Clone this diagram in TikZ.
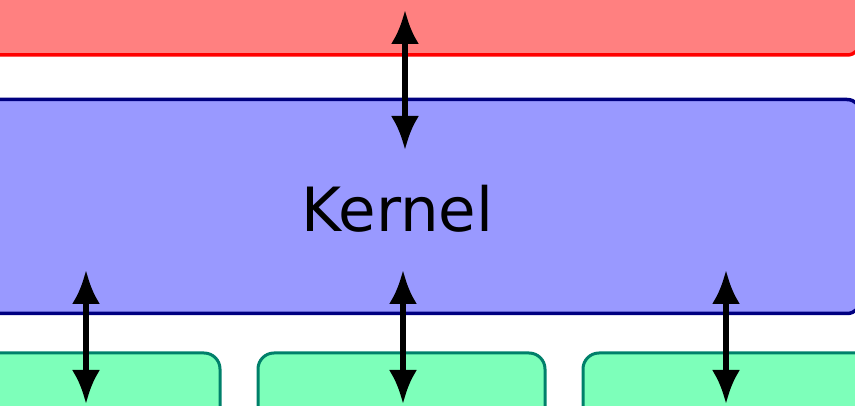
\documentclass[tikz,border=0pt]{standalone}
\usepackage{fontspec}
\setmainfont{DejaVu Sans}
\usetikzlibrary{arrows.meta}
\definecolor{userfill}{HTML}{FF8080}
\definecolor{userline}{HTML}{FF0000}
\definecolor{kernfill}{HTML}{9999FF}
\definecolor{kernline}{HTML}{000080}
\definecolor{devfill}{HTML}{7DFFBA}
\definecolor{devline}{HTML}{00806A}
\begin{document}
\begin{tikzpicture}[x=1pt,y=-1pt,
  layer/.style={rectangle, rounded corners=14pt, line width=3.5pt, inner sep=0pt},
  userlayer/.style={layer, fill=userfill, draw=userline},
  kernlayer/.style={layer, fill=kernfill, draw=kernline},
  devlayer/.style={layer, rounded corners=16pt, line width=3pt, fill=devfill, draw=devline},
  link/.style={line width=6pt, {Latex[length=34pt,width=28pt]}-{Latex[length=34pt,width=28pt]}}
]
\useasboundingbox (0,0) rectangle (855,406);
\clip (0,0) rectangle (855,406);

% application layer (top), kernel (middle), devices (bottom)
\node[userlayer, minimum width=900pt, minimum height=115pt] (user) at (411,-2.5) {};
\node[kernlayer, minimum width=900pt, minimum height=214pt] (kernel) at (411,206.5) {};
\node[font=\fontsize{61}{72}\selectfont, anchor=base] (klabel) at (397.5,232) {Kernel};
\node[devlayer, minimum width=260pt, minimum height=110pt] (dev1) at (90,408) {};
\node[devlayer, minimum width=287pt, minimum height=110pt] (dev2) at (401.5,408) {};
\node[devlayer, minimum width=320pt, minimum height=110pt] (dev3) at (743,408) {};

% double-headed connectors
\coordinate (u1) at (405,10);
\coordinate (k1) at (405,150);
\coordinate (k2) at (86,270);
\coordinate (d1) at (86,404);
\coordinate (k3) at (403,270);
\coordinate (d2) at (403,404);
\coordinate (k4) at (726,270);
\coordinate (d3) at (726,404);
\draw[link] (u1) -- (k1);
\draw[link] (k2) -- (d1);
\draw[link] (k3) -- (d2);
\draw[link] (k4) -- (d3);
\end{tikzpicture}
\end{document}
